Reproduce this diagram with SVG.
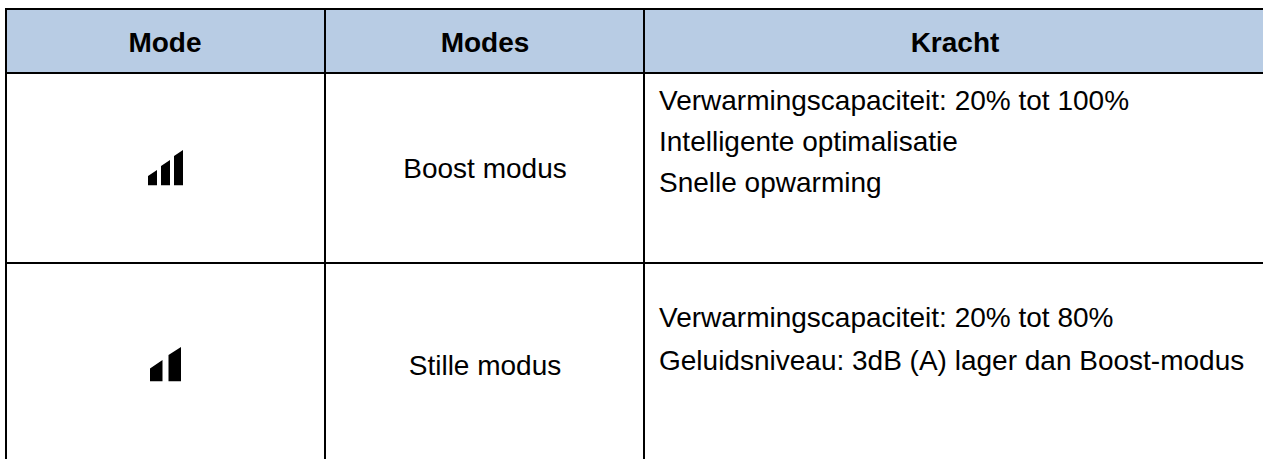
<svg xmlns="http://www.w3.org/2000/svg" width="1263" height="459" viewBox="0 0 1263 459">
<style>
text{font-family:"Liberation Sans",Arial,sans-serif;font-size:28px;fill:#000}
.h{font-weight:bold;text-anchor:middle}
.c{text-anchor:middle}
.l{stroke:#000;stroke-width:2;fill:none}
</style>
<rect width="1263" height="459" fill="#fff"/>
<g id="header">
<rect x="6" y="9" width="1257" height="64" fill="#b8cce4"/>
<text class="h" x="165" y="52">Mode</text>
<text class="h" x="485" y="52">Modes</text>
<text class="h" x="955" y="52">Kracht</text>
</g>
<g id="grid">
<path class="l" d="M5 9H1263M5 73H1263M5 263H1263M6 8V459M325 8V459M644 8V459"/>
</g>
<g id="row1">
<path id="icon-boost" d="M148 176L157 170V185.300H148ZM161 166L170 160V185.300H161ZM174 156L183 150V185.300H174Z" fill="#000"/>
<text class="c" x="485" y="178">Boost modus</text>
<text x="659" y="110">Verwarmingscapaciteit: 20% tot 100%</text>
<text x="659" y="151">Intelligente optimalisatie</text>
<text x="659" y="192">Snelle opwarming</text>
</g>
<g id="row2">
<path id="icon-stille" d="M150 368.500L162.500 360V381.300H150ZM168.500 355L181 347V381.300H168.500Z" fill="#000"/>
<text class="c" x="485" y="375">Stille modus</text>
<text x="659" y="327">Verwarmingscapaciteit: 20% tot 80%</text>
<text x="659" y="370">Geluidsniveau: 3dB (A) lager dan Boost-modus</text>
</g>
</svg>
